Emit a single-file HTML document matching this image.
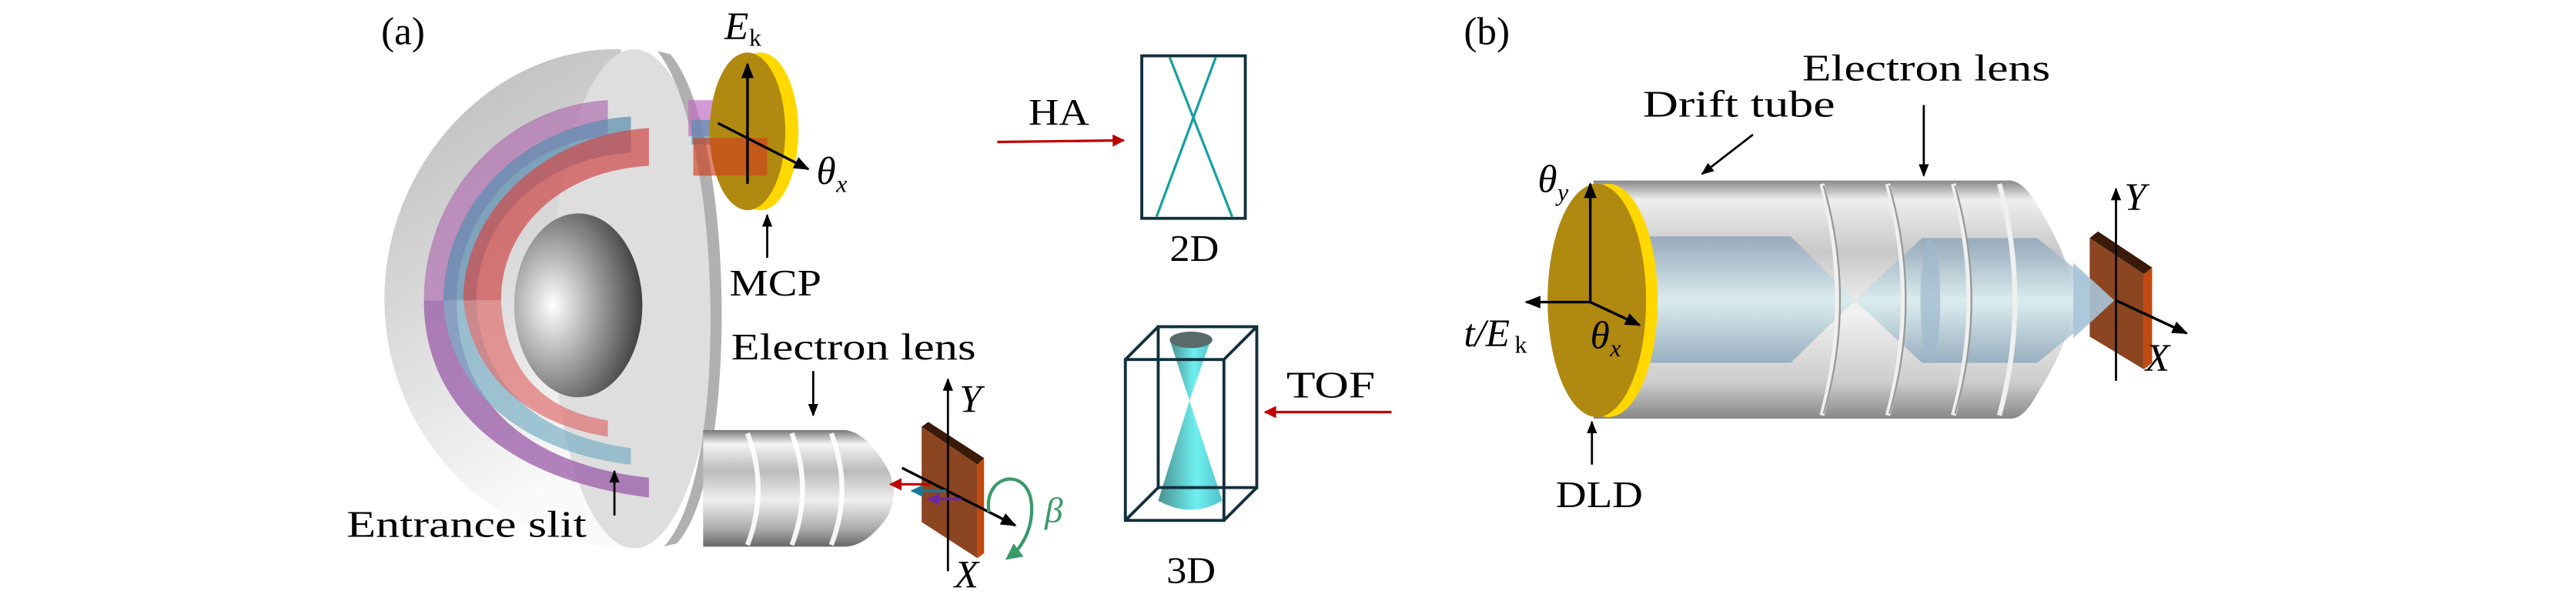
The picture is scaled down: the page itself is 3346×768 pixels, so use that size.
<!DOCTYPE html>
<html><head><meta charset="utf-8"><style>
html,body{margin:0;padding:0;background:#fff;}
svg{display:block;}
text{font-family:"Liberation Serif",serif;fill:#000;}
</style></head><body>
<svg width="3346" height="768" viewBox="0 0 1568 360" preserveAspectRatio="none" xmlns="http://www.w3.org/2000/svg">
<defs>
<marker id="ab" viewBox="0 0 10 10" refX="9" refY="5" markerWidth="6" markerHeight="6" orient="auto"><path d="M0,1 L10,5 L0,9 z" fill="#000"/></marker>
<marker id="ar" viewBox="0 0 10 10" refX="9" refY="5" markerWidth="6" markerHeight="5" orient="auto"><path d="M0,0 L10,5 L0,10 z" fill="#c00000"/></marker>
<marker id="abl" viewBox="0 0 10 10" refX="9" refY="5" markerWidth="5" markerHeight="5" orient="auto"><path d="M0,0 L10,5 L0,10 z" fill="#1a7a9a"/></marker>
<marker id="apu" viewBox="0 0 10 10" refX="9" refY="5" markerWidth="5" markerHeight="5" orient="auto"><path d="M0,0 L10,5 L0,10 z" fill="#6a2aa0"/></marker>
<marker id="ag" viewBox="0 0 10 10" refX="5" refY="5" markerWidth="5" markerHeight="5" orient="auto"><path d="M0,0 L10,5 L0,10 z" fill="#3a9a6a"/></marker>
<linearGradient id="shell" x1="0" y1="0" x2="0.3" y2="1"><stop offset="0" stop-color="#b8b8b8"/><stop offset="0.5" stop-color="#d8d8d8"/><stop offset="1" stop-color="#fafafa"/></linearGradient>
<radialGradient id="cav" cx="0.3" cy="0.5" r="0.75"><stop offset="0" stop-color="#fff"/><stop offset="0.5" stop-color="#999"/><stop offset="1" stop-color="#333"/></radialGradient>
<linearGradient id="cyl" x1="0" y1="0" x2="0" y2="1"><stop offset="0" stop-color="#777"/><stop offset="0.12" stop-color="#f4f4f4"/><stop offset="0.35" stop-color="#bbb"/><stop offset="0.6" stop-color="#eee"/><stop offset="0.85" stop-color="#aaa"/><stop offset="1" stop-color="#666"/></linearGradient>
<linearGradient id="cylb" x1="0" y1="0" x2="0" y2="1"><stop offset="0" stop-color="#888"/><stop offset="0.08" stop-color="#eee"/><stop offset="0.3" stop-color="#c8c8c8"/><stop offset="0.55" stop-color="#f2f2f2"/><stop offset="0.85" stop-color="#ccc"/><stop offset="1" stop-color="#888"/></linearGradient>
<linearGradient id="beam" x1="0" y1="0" x2="0" y2="1"><stop offset="0" stop-color="#8fa4b8"/><stop offset="0.5" stop-color="#d6ecee"/><stop offset="1" stop-color="#8fa8bc"/></linearGradient>
<linearGradient id="cone" x1="0" y1="0" x2="1" y2="0"><stop offset="0" stop-color="#4a9090"/><stop offset="0.6" stop-color="#6ff0f0"/><stop offset="1" stop-color="#50c0c8"/></linearGradient>
</defs>

<text x="232" y="27" font-size="24">(a)</text>

<path d="M378,30 C300,28 234,100 234,182 C234,265 300,335 382,333 Z" fill="url(#shell)"/>
<ellipse cx="386" cy="182" rx="50" ry="152" fill="#dedede"/>
<path d="M400,31 C440,80 445,290 404,333 L412,331 C450,290 448,80 408,33 Z" fill="#b0b0b0"/>
<ellipse cx="352" cy="186" rx="39" ry="56" fill="url(#cav)"/>
<path d="M370,61 C305,65 258,120 258,183 L278,183 C278,130 320,86 370,83 Z" fill="#b070b0" opacity="0.7"/>
<path d="M384,71 C318,75 270,125 270,183 L290,183 C290,135 330,96 384,93 Z" fill="#5a8fb0" opacity="0.7"/>
<path d="M395,78 C330,82 282,130 282,183 L305,183 C305,140 340,104 395,101 Z" fill="#d04848" opacity="0.7"/>
<path d="M258,183 C258,245 305,292 395,303 L395,291 C315,282 278,240 278,183 Z" fill="#9a5aa8" opacity="0.75"/>
<path d="M270,183 C272,235 315,275 384,283 L384,273 C325,265 292,232 290,183 Z" fill="#7ab0c8" opacity="0.7"/>
<path d="M282,183 C287,228 320,258 370,266 L370,256 C330,250 307,225 305,183 Z" fill="#e07070" opacity="0.7"/>
<rect x="419" y="61" width="30" height="22" fill="#c070c0" opacity="0.7"/>
<rect x="421" y="73" width="30" height="15" fill="#5a8fb0" opacity="0.7"/>
<ellipse cx="463" cy="80" rx="23" ry="48" fill="#ffd800"/>
<ellipse cx="455" cy="80" rx="23" ry="48" fill="#b08a10"/>
<rect x="422" y="84" width="45" height="23" fill="#d04020" opacity="0.65"/>
<line x1="455" y1="112" x2="455" y2="39" stroke="#000" stroke-width="1.6" marker-end="url(#ab)"/>
<line x1="437" y1="75" x2="492" y2="103" stroke="#000" stroke-width="1.6" marker-end="url(#ab)"/>
<text x="441" y="24" font-size="24" font-style="italic">E</text><text x="456" y="28" font-size="15">k</text>
<text x="497" y="112" font-size="24" font-style="italic">θ</text><text x="509" y="117" font-size="15" font-style="italic">x</text>
<line x1="467" y1="157" x2="467" y2="131" stroke="#000" stroke-width="1.3" marker-end="url(#ab)"/>
<text x="444" y="180" font-size="23" textLength="56" lengthAdjust="spacingAndGlyphs">MCP</text>

<path d="M428,262 L515,262 Q528,264 540,285 Q548,300 540,315 Q528,332 515,333 L428,333 Z" fill="url(#cyl)"/>
<path d="M455,264 Q468,298 455,332 M482,264 Q495,298 482,332 M506,264 Q519,298 506,332" stroke="#fff" stroke-width="3" fill="none" opacity="0.9"/>
<text x="445" y="219" font-size="23" textLength="149" lengthAdjust="spacingAndGlyphs">Electron lens</text>
<line x1="495" y1="226" x2="495" y2="253" stroke="#000" stroke-width="1.3" marker-end="url(#ab)"/>
<path d="M561,260 L565,257 L599,279 L595,283 Z" fill="#3a1a08"/>
<path d="M561,260 L595,283 L595,340 L561,318 Z" fill="#8b4520"/>
<path d="M595,283 L599,279 L599,337 L595,340 Z" fill="#c04a10"/>
<line x1="577" y1="348" x2="577" y2="231" stroke="#000" stroke-width="1.3" marker-end="url(#ab)"/>
<line x1="549" y1="285" x2="618" y2="320" stroke="#000" stroke-width="1.6" marker-end="url(#ab)"/>
<line x1="566" y1="295" x2="542" y2="295" stroke="#c00000" stroke-width="1.5" marker-end="url(#ar)"/>
<line x1="576" y1="299" x2="555" y2="299" stroke="#1a7a9a" stroke-width="1.5" marker-end="url(#abl)"/>
<line x1="585" y1="304" x2="565" y2="304" stroke="#6a2aa0" stroke-width="1.5" marker-end="url(#apu)"/>
<path d="M602,312 C598,288 628,283 628,310 C628,325 620,335 616,338" stroke="#3a9a6a" stroke-width="2" fill="none" marker-end="url(#ag)"/>
<text x="584" y="251" font-size="24" font-style="italic">Y</text>
<text x="581" y="358" font-size="24" font-style="italic">X</text>
<text x="636" y="318" font-size="22" font-style="italic" style="fill:#3a9a6a">β</text>
<text x="211" y="327" font-size="23" textLength="146" lengthAdjust="spacingAndGlyphs">Entrance slit</text>
<line x1="374" y1="314" x2="374" y2="287" stroke="#000" stroke-width="1.3" marker-end="url(#ab)"/>

<text x="626" y="76" font-size="23" textLength="37" lengthAdjust="spacingAndGlyphs">HA</text>
<line x1="607" y1="86.5" x2="684" y2="85.5" stroke="#c00000" stroke-width="1.5" marker-end="url(#ar)"/>
<rect x="695" y="34" width="63" height="99" fill="none" stroke="#12303d" stroke-width="1.8"/>
<line x1="712" y1="35" x2="750" y2="132" stroke="#15a0a0" stroke-width="1.5"/>
<line x1="740" y1="35" x2="704" y2="132" stroke="#15a0a0" stroke-width="1.5"/>
<text x="712" y="159" font-size="23" textLength="30" lengthAdjust="spacingAndGlyphs">2D</text>

<path d="M712,207 L737,207 L724,244 Z" fill="url(#cone)"/>
<ellipse cx="725" cy="207" rx="13" ry="5" fill="#5a6a6a"/>
<path d="M724,244 L744,305 Q725,316 705,305 Z" fill="url(#cone)"/>
<g fill="none" stroke="#12303d" stroke-width="1.8">
<rect x="685" y="219" width="60" height="98"/>
<rect x="705" y="199" width="60" height="98"/>
<line x1="685" y1="219" x2="705" y2="199"/><line x1="745" y1="219" x2="765" y2="199"/>
<line x1="685" y1="317" x2="705" y2="297"/><line x1="745" y1="317" x2="765" y2="297"/>
</g>
<text x="710" y="355" font-size="23" textLength="30" lengthAdjust="spacingAndGlyphs">3D</text>
<text x="783" y="242" font-size="23" textLength="54" lengthAdjust="spacingAndGlyphs">TOF</text>
<line x1="847" y1="251" x2="770" y2="251" stroke="#c00000" stroke-width="1.5" marker-end="url(#ar)"/>

<text x="891" y="27" font-size="24">(b)</text>
<path d="M970,110 L1224,110 Q1232,111 1240,125 Q1262,160 1262,183 Q1262,205 1240,240 Q1232,255 1224,255 L970,255 Z" fill="url(#cylb)"/>
<path d="M1002,144 L1090,144 L1129,183 L1090,221 L1002,221 Z" fill="url(#beam)" opacity="0.85"/>
<path d="M1129,183 L1170,145 L1240,145 L1287,183 L1240,221 L1170,221 Z" fill="url(#beam)" opacity="0.85"/>
<ellipse cx="1175" cy="183" rx="6" ry="38" fill="#9cb8cc" opacity="0.7"/>
<path d="M1109,112 Q1128,183 1109,253 M1149,112 Q1168,183 1149,253 M1189,112 Q1208,183 1189,253 M1217,112 Q1236,183 1217,253" stroke="#f0f0f0" stroke-width="3" fill="none"/>
<path d="M1110,113 Q1130,183 1110,252 M1150,113 Q1170,183 1150,252 M1190,113 Q1210,183 1190,252" stroke="#999" stroke-width="1.1" fill="none"/>
<ellipse cx="979" cy="183" rx="30" ry="71" fill="#ffd800"/>
<ellipse cx="972" cy="183" rx="30" ry="71" fill="#b08a10"/>
<path d="M1272,145 L1277,141 L1310,163 L1305,167 Z" fill="#3a1a08"/>
<path d="M1272,145 L1305,167 L1305,225 L1272,205 Z" fill="#8b4520"/>
<path d="M1305,167 L1310,163 L1310,221 L1305,225 Z" fill="#c04a10"/>
<path d="M1262,160 L1287,183 L1262,206 Z" fill="#a8c4d8" opacity="0.9"/>
<line x1="1288" y1="232" x2="1288" y2="115" stroke="#000" stroke-width="1.3" marker-end="url(#ab)"/>
<line x1="1288" y1="183" x2="1331" y2="203" stroke="#000" stroke-width="1.6" marker-end="url(#ab)"/>
<text x="1293" y="128" font-size="24" font-style="italic">Y</text>
<text x="1306" y="226" font-size="24" font-style="italic">X</text>
<line x1="968" y1="184" x2="968" y2="112" stroke="#000" stroke-width="1.6" marker-end="url(#ab)"/>
<line x1="968" y1="184" x2="929" y2="184" stroke="#000" stroke-width="1.6" marker-end="url(#ab)"/>
<line x1="968" y1="184" x2="998" y2="198" stroke="#000" stroke-width="1.6" marker-end="url(#ab)"/>
<text x="936" y="117" font-size="24" font-style="italic">θ</text><text x="948" y="122" font-size="15" font-style="italic">y</text>
<text x="891" y="211" font-size="24" font-style="italic">t/E</text><text x="922" y="215" font-size="15">k</text>
<text x="968" y="212" font-size="24" font-style="italic">θ</text><text x="980" y="217" font-size="15" font-style="italic">x</text>
<line x1="969" y1="283" x2="969" y2="257" stroke="#000" stroke-width="1.3" marker-end="url(#ab)"/>
<text x="947" y="309" font-size="23" textLength="53" lengthAdjust="spacingAndGlyphs">DLD</text>
<text x="1000" y="71" font-size="23" textLength="117" lengthAdjust="spacingAndGlyphs">Drift tube</text>
<line x1="1067" y1="82" x2="1036" y2="106" stroke="#000" stroke-width="1.3" marker-end="url(#ab)"/>
<text x="1097" y="49" font-size="23" textLength="151" lengthAdjust="spacingAndGlyphs">Electron lens</text>
<line x1="1171" y1="64" x2="1171" y2="107" stroke="#000" stroke-width="1.3" marker-end="url(#ab)"/>
</svg>
</body></html>
